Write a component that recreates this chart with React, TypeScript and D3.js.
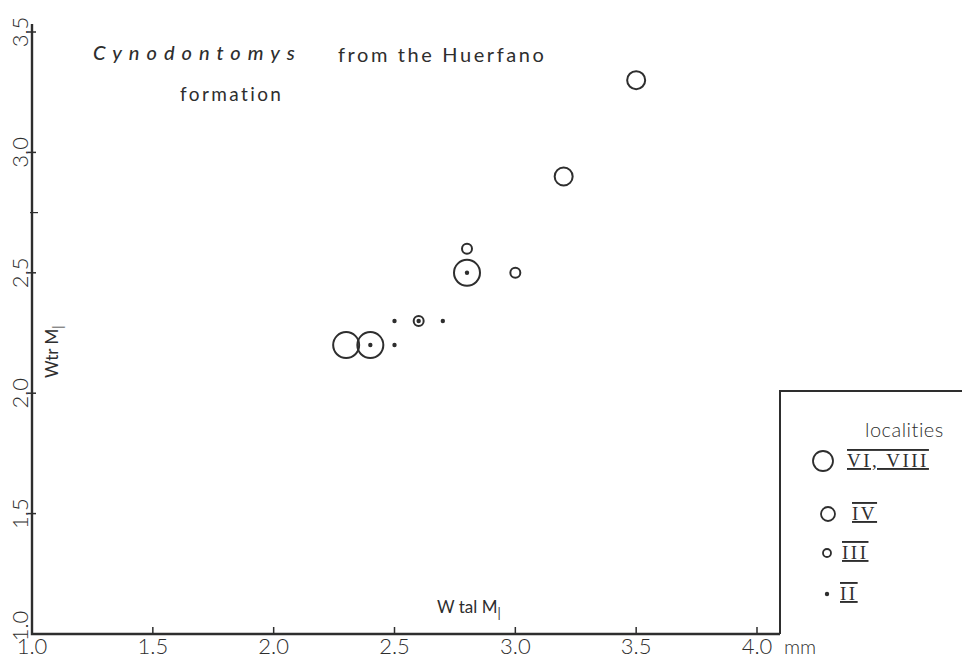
import * as d3 from 'd3';

const xTicks = [1.0, 1.5, 2.0, 2.5, 3.0, 3.5, 4.0];
const yTicks = [1.0, 1.5, 2.0, 2.5, 3.0, 3.5];

// specimens, Wtal M1 (x) vs Wtr M1 (y), by locality
const localityVI_VIII = [
  { x: 2.3, y: 2.2 },
  { x: 2.4, y: 2.2 },
  { x: 2.8, y: 2.5 },
];
const localityIV = [
  { x: 3.2, y: 2.9 },
  { x: 3.5, y: 3.3 },
];
const localityIII = [
  { x: 2.8, y: 2.6 },
  { x: 3.0, y: 2.5 },
  { x: 2.6, y: 2.3 },
];
const localityII = [
  { x: 2.4, y: 2.2 },
  { x: 2.5, y: 2.2 },
  { x: 2.5, y: 2.3 },
  { x: 2.6, y: 2.3 },
  { x: 2.7, y: 2.3 },
  { x: 2.8, y: 2.5 },
];

const legendItems = ['VI, VIII', 'IV', 'III', 'II'];

const width = 962;
const height = 661;
const ink = '#2e2e2e';
const sans = 'Lato, "Liberation Sans", sans-serif';
const serif = '"Liberation Serif", "DejaVu Serif", serif';

export default function App() {
  const x = d3.scaleLinear().domain([1, 4]).range([32, 757]);
  const y = d3.scaleLinear().domain([1, 3.5]).range([634, 32]);

  const groups = [
    { data: localityVI_VIII, r: 13, dot: false },
    { data: localityIV, r: 9, dot: false },
    { data: localityIII, r: 5, dot: false },
    { data: localityII, r: 2.2, dot: true },
  ];
  const legendR = [10, 7, 4, 2.2];
  const legendY = [461, 514, 553, 594];
  const legendCX = [823, 828, 827, 827];
  const legendTextX = [847, 852, 842, 840];

  return (
    <svg
      width={width}
      height={height}
      style={{ position: 'absolute', left: 0, top: 0, background: '#fff' }}
    >
      {/* axes */}
      <path d={`M${x(1)},${y(3.5) - 8}V${y(1)}H780`} fill="none" stroke={ink} strokeWidth={2.4} />
      {xTicks.slice(1).map((t) => (
        <line key={t} x1={x(t)} x2={x(t)} y1={y(1)} y2={y(1) - 7} stroke={ink} strokeWidth={1.5} />
      ))}
      {yTicks.slice(1).map((t) => (
        <line key={t} x1={x(1) - 4} x2={x(1) + 4} y1={y(t)} y2={y(t)} stroke={ink} strokeWidth={1.5} />
      ))}
      <line x1={x(1) - 2} x2={x(1) + 6} y1={y(2.75)} y2={y(2.75)} stroke={ink} strokeWidth={1.2} />

      {/* tick labels */}
      {xTicks.map((t) => (
        <text
          key={t}
          x={x(t)}
          y={y(1) + 20}
          fontFamily={sans}
          fontWeight={300}
          fontSize={22}
          fill={ink}
          textAnchor="middle"
        >
          {t.toFixed(1)}
        </text>
      ))}
      <text x={x(4) + 27} y={y(1) + 20} fontFamily={sans} fontWeight={300} fontSize={20} fill={ink}>
        mm
      </text>
      {yTicks.map((t) => (
        <text
          key={t}
          transform={`translate(28,${t === 1 ? y(t) - 8 : y(t)}) rotate(-90)`}
          fontFamily={sans}
          fontWeight={300}
          fontSize={22}
          fill={ink}
          textAnchor="middle"
        >
          {t.toFixed(1)}
        </text>
      ))}

      {/* axis titles */}
      <text x={437} y={613} fontFamily={sans} fontSize={17} fill={ink}>
        W tal M
        <tspan fontSize={13} dy={5} fill={ink}>
          |
        </tspan>
      </text>
      <text transform="translate(58,378) rotate(-90)" fontFamily={sans} fontSize={17} fill={ink}>
        Wtr M
        <tspan fontSize={13} dy={5} fill={ink}>
          |
        </tspan>
      </text>

      {/* title */}
      <text
        x={93}
        y={60}
        fontFamily={sans}
        fontStyle="italic"
        fontWeight={500}
        fontSize={20}
        letterSpacing={7}
        fill={ink}
      >
        Cynodontomys
      </text>
      <text x={338} y={62} fontFamily={sans} fontSize={20} letterSpacing={2.6} fill={ink}>
        from the Huerfano
      </text>
      <text x={180} y={101} fontFamily={sans} fontSize={19} letterSpacing={2.4} fill={ink}>
        formation
      </text>

      {/* points */}
      {groups.map((g, gi) =>
        g.data.map((d, i) => (
          <circle
            key={`${gi}-${i}`}
            cx={x(d.x)}
            cy={y(d.y)}
            r={g.r}
            fill={g.dot ? ink : 'none'}
            stroke={ink}
            strokeWidth={g.dot ? 0 : 2}
          />
        ))
      )}

      {/* legend */}
      <path d={`M780,${y(1)}V391H${width}`} fill="none" stroke={ink} strokeWidth={2} />
      <text x={865} y={437} fontFamily={sans} fontWeight={300} fontSize={20} fill={ink} letterSpacing={0.5}>
        localities
      </text>
      {legendItems.map((label, i) => (
        <g key={label}>
          <circle
            cx={legendCX[i]}
            cy={legendY[i]}
            r={legendR[i]}
            fill={i === 3 ? ink : 'none'}
            stroke={ink}
            strokeWidth={i === 3 ? 0 : 1.8}
          />
          <text
            x={legendTextX[i]}
            y={legendY[i] + 6}
            fontFamily={serif}
            fontSize={19}
            fill={ink}
            letterSpacing={2.5}
            style={{ textDecoration: 'underline overline' }}
          >
            {label}
          </text>
        </g>
      ))}
    </svg>
  );
}
